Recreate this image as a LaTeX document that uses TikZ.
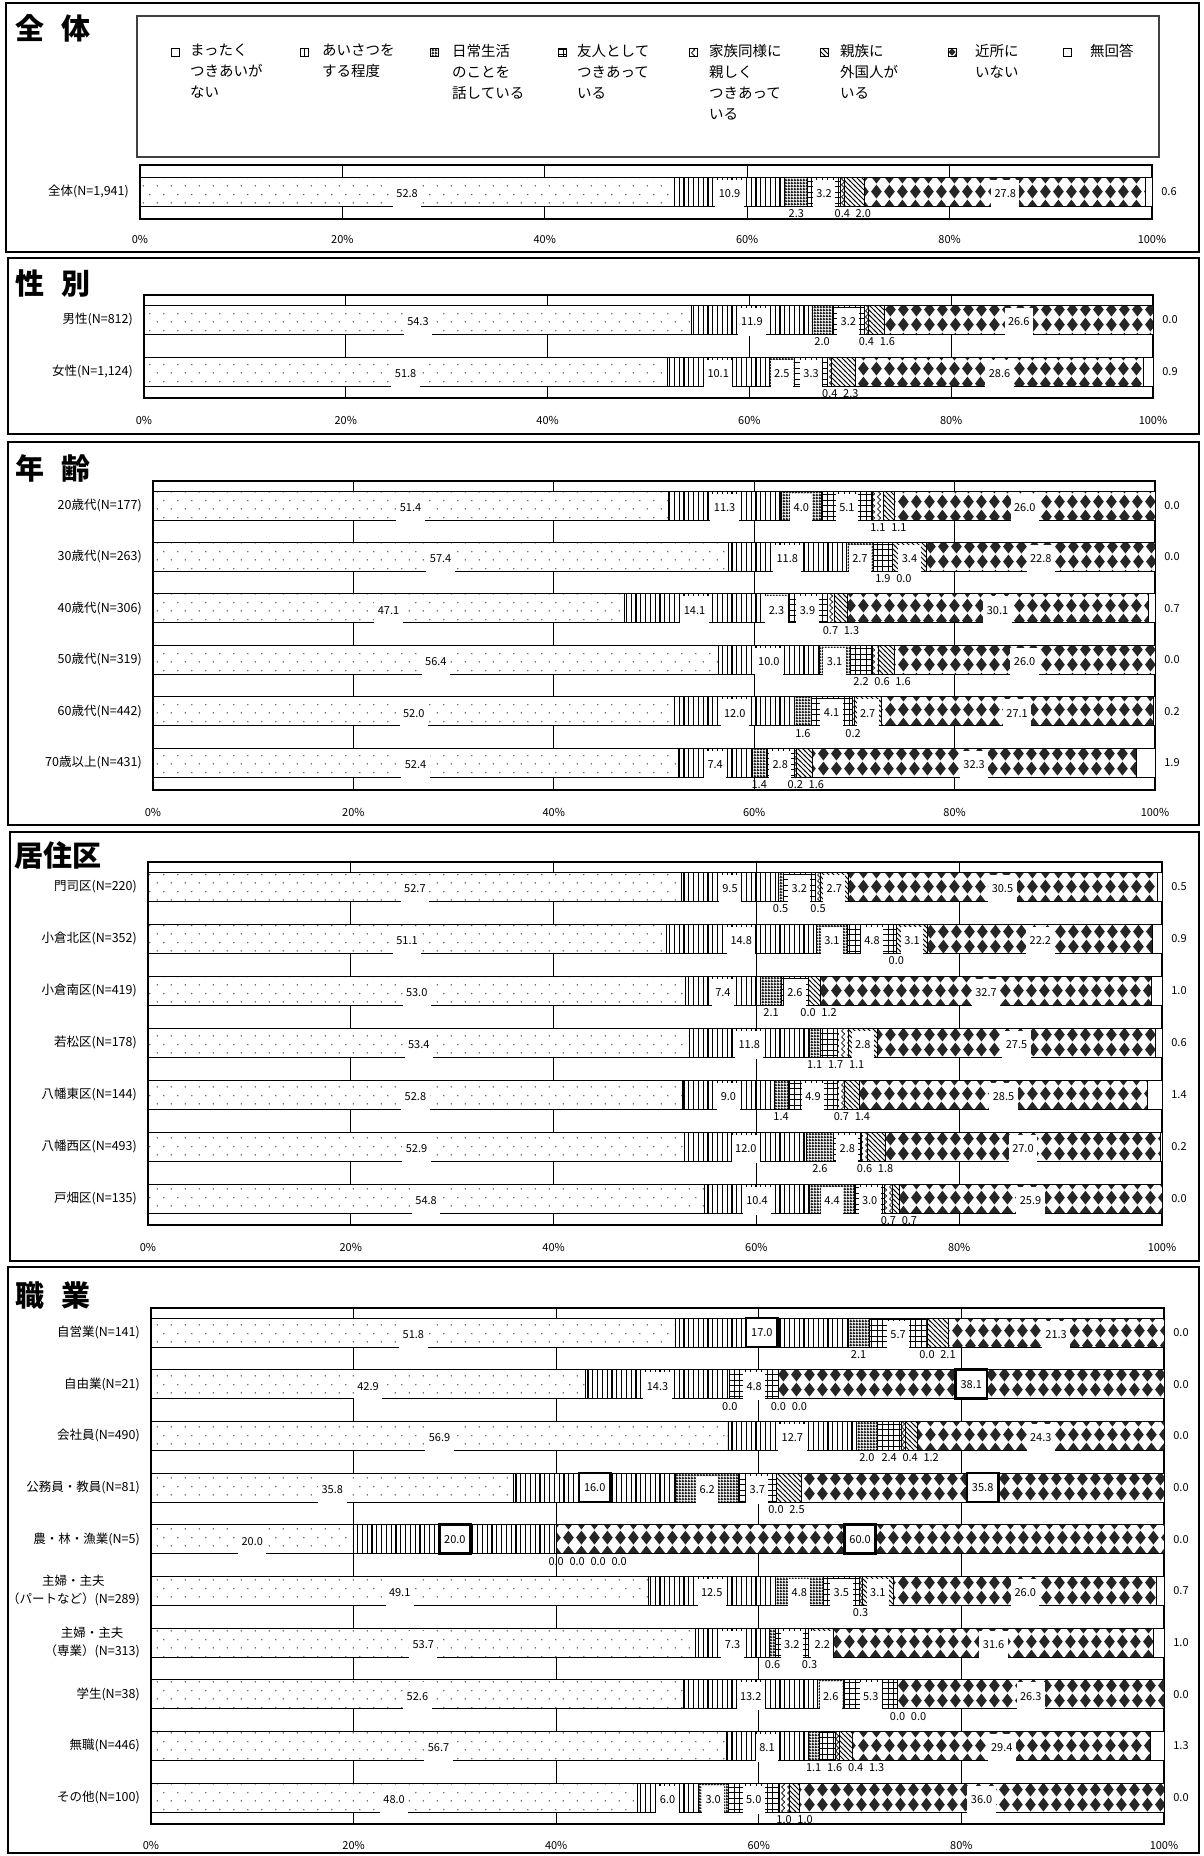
\documentclass[tikz,border=0pt]{standalone}
\usepackage{fontspec}
\setmainfont{Noto Sans CJK JP}
\usetikzlibrary{patterns}

\pgfdeclarepatternformonly{sparsedots}{\pgfqpoint{0pt}{0pt}}{\pgfqpoint{14pt}{17pt}}{\pgfqpoint{14pt}{17pt}}{%
  \pgfpathcircle{\pgfqpoint{3.5pt}{4.25pt}}{0.75pt}%
  \pgfpathcircle{\pgfqpoint{10.5pt}{12.75pt}}{0.75pt}%
  \pgfusepath{fill}}
\pgfdeclarepatternformonly{vlines}{\pgfqpoint{0pt}{-1pt}}{\pgfqpoint{4.8pt}{31pt}}{\pgfqpoint{4.8pt}{30pt}}{%
  \pgfsetlinewidth{1.1pt}%
  \pgfpathmoveto{\pgfqpoint{2.4pt}{-1pt}}\pgfpathlineto{\pgfqpoint{2.4pt}{31pt}}%
  \pgfusepath{stroke}}
\pgfdeclarepatternformonly{densedots}{\pgfqpoint{0pt}{0pt}}{\pgfqpoint{2.6pt}{2.6pt}}{\pgfqpoint{2.6pt}{2.6pt}}{%
  \pgfpathrectangle{\pgfqpoint{0pt}{0pt}}{\pgfqpoint{2.6pt}{1.5pt}}%
  \pgfpathrectangle{\pgfqpoint{0pt}{1.4pt}}{\pgfqpoint{1.5pt}{1.2pt}}%
  \pgfusepath{fill}}
\pgfdeclarepatternformonly{gridcells}{\pgfqpoint{-0.5pt}{-0.5pt}}{\pgfqpoint{6pt}{6pt}}{\pgfqpoint{5.5pt}{5.5pt}}{%
  \pgfsetlinewidth{0.9pt}%
  \pgfpathmoveto{\pgfqpoint{-0.5pt}{2.75pt}}\pgfpathlineto{\pgfqpoint{6pt}{2.75pt}}%
  \pgfpathmoveto{\pgfqpoint{2.75pt}{-0.5pt}}\pgfpathlineto{\pgfqpoint{2.75pt}{6pt}}%
  \pgfusepath{stroke}}
\pgfdeclarepatternformonly{zigzag}{\pgfqpoint{0pt}{-0.5pt}}{\pgfqpoint{6pt}{6.5pt}}{\pgfqpoint{6pt}{6pt}}{%
  \pgfsetlinewidth{0.7pt}%
  \pgfpathmoveto{\pgfqpoint{4.83pt}{-0.33pt}}\pgfpathlineto{\pgfqpoint{1.5pt}{3pt}}%
  \pgfpathlineto{\pgfqpoint{4.83pt}{6.33pt}}%
  \pgfusepath{stroke}}
\pgfdeclarepatternformonly{backlines}{\pgfqpoint{-1pt}{-1pt}}{\pgfqpoint{6pt}{6pt}}{\pgfqpoint{5pt}{5pt}}{%
  \pgfsetlinewidth{0.8pt}%
  \pgfpathmoveto{\pgfqpoint{-1pt}{6pt}}\pgfpathlineto{\pgfqpoint{6pt}{-1pt}}%
  \pgfusepath{stroke}}
\pgfdeclarepatternformonly{diamonds}{\pgfqpoint{0pt}{0pt}}{\pgfqpoint{13.4pt}{14.8pt}}{\pgfqpoint{13.4pt}{14.8pt}}{%
  \pgfpathmoveto{\pgfqpoint{6.7pt}{0.5pt}}\pgfpathlineto{\pgfqpoint{12.3pt}{7.4pt}}%
  \pgfpathlineto{\pgfqpoint{6.7pt}{14.3pt}}\pgfpathlineto{\pgfqpoint{1.1pt}{7.4pt}}%
  \pgfpathclose\pgfusepath{fill}}

\tikzset{
  segbox/.style={draw=black, line width=0.9pt, preaction={fill=white}},
  seg1/.style={segbox, pattern=sparsedots, pattern color=black!75},
  seg2/.style={segbox, pattern=vlines},
  seg3/.style={segbox, pattern=densedots, pattern color=black!85},
  seg4/.style={segbox, pattern=gridcells},
  seg5/.style={segbox, pattern=zigzag},
  seg6/.style={segbox, pattern=backlines},
  seg7/.style={segbox, pattern=diamonds, pattern color=black!85},
  seg8/.style={draw=black, line width=0.9pt, fill=white},
  numtext/.style={font=\fontsize{11}{11}\selectfont},
  inlabel/.style={numtext, fill=white, inner xsep=3.5pt, inner ysep=0pt, minimum height=28pt},
  boldlabel/.style={numtext, fill=white, draw=black, line width=2.6pt, inner xsep=5pt, minimum height=29pt},
  lowlabel/.style={numtext, inner sep=1pt},
  rowlabel/.style={font=\fontsize{12.5}{18}\selectfont, anchor=east, align=center, inner sep=0pt},
  sectitle/.style={font=\fontsize{29}{29}\selectfont\bfseries, anchor=west, inner sep=0pt},
  sectbox/.style={draw=black, line width=1.6pt},
  plotframe/.style={draw=black, line width=1.2pt},
  gridline/.style={draw=black, line width=0.7pt},
  legendbox/.style={draw=black!75, line width=1.2pt},
}

% frame, grid and percent line of one panel
\newcommand\plotaxes[4]{%
  \draw[plotframe] (\xa,#2) rectangle (\xa+\xw,#3);
  \foreach \g in {20,40,60,80}
    \draw[gridline] (\xa+\g/100*\xw,#2) -- (\xa+\g/100*\xw,#3);
  \foreach \g in {0,20,...,100}
    \node[numtext] (#1x\g) at (\xa+\g/100*\xw,#4) {\g\%};
}

% one stacked bar: name, top, label, value/place list, no answer
\newcommand\barrow[5]{%
  \gdef\tot{#5}%
  \foreach \val/\pos in {#4} {\pgfmathsetmacro\tmpsum{\tot+\val}\xdef\tot{\tmpsum}}%
  \gdef\cum{0}%
  \foreach \val/\pos [count=\idx] in {#4} {%
    \pgfmathsetmacro\xl{\xa+\cum/\tot*\xw}%
    \pgfmathsetmacro\tmpsum{\cum+\val}\xdef\cum{\tmpsum}%
    \pgfmathsetmacro\xr{\xa+\cum/\tot*\xw}%
    \draw[seg\idx] (\xl,#2) rectangle (\xr,#2+29);
  }%
  \pgfmathsetmacro\xl{\xa+\cum/\tot*\xw}%
  \draw[seg8] (\xl,#2) rectangle (\xa+\xw,#2+29);
  \gdef\cum{0}\gdef\lastlow{-100}%
  \foreach \val/\pos [count=\idx] in {#4} {%
    \pgfmathsetmacro\xc{\xa+(\cum+\val/2)/\tot*\xw}%
    \pgfmathsetmacro\tmpsum{\cum+\val}\xdef\cum{\tmpsum}%
    \if b\pos
      \pgfmathsetmacro\xc{max(\xc,\lastlow+21)}\xdef\lastlow{\xc}%
      \node[lowlabel] (#1v\idx) at (\xc,#2+36.5) {\val};
    \else\if k\pos
      \node[boldlabel] (#1v\idx) at (\xc,#2+14.5) {\val};
    \else
      \node[inlabel] (#1v\idx) at (\xc,#2+16.5) {\val};
    \fi\fi
  }%
  \node[numtext] (#1v8) at (\xa+\xw+17,#2+14.5) {#5};
  \node[rowlabel] (#1) at (\xa-11,#2+14.5) {#3};
}

\begin{document}
\begin{tikzpicture}[x=1pt,y=-1pt]
\useasboundingbox (0,0) rectangle (1203,1856);

% 全体
\begin{scope}
  \draw[sectbox] (6,3) rectangle (1199,252);
  \node[sectitle] (alltitle) at (15,28) {全\hspace{.6em}体};
  \draw[legendbox] (137,16) rectangle (1159,157);
  \begin{scope}[every node/.style={minimum size=8pt, inner sep=0pt, line width=0.7pt}]
    \node[seg1] (key1) at (175,52) {};
    \node[seg2] (key2) at (304,52) {};
    \node[seg3] (key3) at (434,52) {};
    \node[seg4] (key4) at (562,52) {};
    \node[seg5] (key5) at (693,52) {};
    \node[seg6] (key6) at (824,52) {};
    \node[seg7, path picture={\fill[black!85] (path picture bounding box.center)
      +(-3.6,0) -- +(0,-3.6) -- +(3.6,0) -- +(0,3.6) -- cycle;}] (key7) at (952,52) {};
    \node[seg8] (key8) at (1067,52) {};
  \end{scope}
  \begin{scope}[every node/.style={font=\fontsize{14.5}{21}\selectfont, align=left, anchor=north west, inner sep=0pt}]
    \node (text1) at (190,44) {まったく\\つきあいが\\ない};
    \node (text2) at (322,44) {あいさつを\\する程度};
    \node (text3) at (452,44) {日常生活\\のことを\\話している};
    \node (text4) at (577,44) {友人として\\つきあって\\いる};
    \node (text5) at (709,44) {家族同様に\\親しく\\つきあって\\いる};
    \node (text6) at (840,44) {親族に\\外国人が\\いる};
    \node (text7) at (975,44) {近所に\\いない};
    \node (text8) at (1090,44) {無回答};
  \end{scope}
  \def\xa{140}\def\xw{1012}
  \plotaxes{all}{165}{219}{239}
  \barrow{all}{177}{全体(N=1,941)}{52.8/i,10.9/i,2.3/b,3.2/i,0.4/b,2.0/b,27.8/i}{0.6}
\end{scope}

% 性別
\begin{scope}
  \draw[sectbox] (8,258) rectangle (1199,434);
  \node[sectitle] (sextitle) at (15,283) {性\hspace{.6em}別};
  \def\xa{144}\def\xw{1009}
  \plotaxes{sex}{295}{398}{420}
  \barrow{male}{305}{男性(N=812)}{54.3/i,11.9/i,2.0/b,3.2/i,0.4/b,1.6/b,26.6/i}{0.0}
  \barrow{female}{357}{女性(N=1,124)}{51.8/i,10.1/i,2.5/i,3.3/i,0.4/b,2.3/b,28.6/i}{0.9}
\end{scope}

% 年齢
\begin{scope}
  \draw[sectbox] (8,442) rectangle (1199,825);
  \node[sectitle] (agetitle) at (15,468) {年\hspace{.6em}齢};
  \def\xa{153}\def\xw{1002}
  \plotaxes{age}{481}{790}{812}
  \barrow{age20}{491}{20歳代(N=177)}{51.4/i,11.3/i,4.0/i,5.1/i,1.1/b,1.1/b,26.0/i}{0.0}
  \barrow{age30}{542.4}{30歳代(N=263)}{57.4/i,11.8/i,2.7/i,1.9/b,0.0/b,3.4/i,22.8/i}{0.0}
  \barrow{age40}{593.8}{40歳代(N=306)}{47.1/i,14.1/i,2.3/i,3.9/i,0.7/b,1.3/b,30.1/i}{0.7}
  \barrow{age50}{645.2}{50歳代(N=319)}{56.4/i,10.0/i,3.1/i,2.2/b,0.6/b,1.6/b,26.0/i}{0.0}
  \barrow{age60}{696.6}{60歳代(N=442)}{52.0/i,12.0/i,1.6/b,4.1/i,0.2/b,2.7/i,27.1/i}{0.2}
  \barrow{age70}{748}{70歳以上(N=431)}{52.4/i,7.4/i,1.4/b,2.8/i,0.2/b,1.6/b,32.3/i}{1.9}
\end{scope}

% 居住区
\begin{scope}
  \draw[sectbox] (10,832) rectangle (1199,1261);
  \node[sectitle] (wardtitle) at (14,855) {居住区};
  \def\xa{148}\def\xw{1014}
  \plotaxes{ward}{862}{1225}{1247}
  \barrow{moji}{872}{門司区(N=220)}{52.7/i,9.5/i,0.5/b,3.2/i,0.5/b,2.7/i,30.5/i}{0.5}
  \barrow{kokurakita}{924}{小倉北区(N=352)}{51.1/i,14.8/i,3.1/i,4.8/i,0.0/b,3.1/i,22.2/i}{0.9}
  \barrow{kokuraminami}{976}{小倉南区(N=419)}{53.0/i,7.4/i,2.1/b,2.6/i,0.0/b,1.2/b,32.7/i}{1.0}
  \barrow{wakamatsu}{1028}{若松区(N=178)}{53.4/i,11.8/i,1.1/b,1.7/b,1.1/b,2.8/i,27.5/i}{0.6}
  \barrow{yahatahigashi}{1080}{八幡東区(N=144)}{52.8/i,9.0/i,1.4/b,4.9/i,0.7/b,1.4/b,28.5/i}{1.4}
  \barrow{yahatanishi}{1132}{八幡西区(N=493)}{52.9/i,12.0/i,2.6/b,2.8/i,0.6/b,1.8/b,27.0/i}{0.2}
  \barrow{tobata}{1184}{戸畑区(N=135)}{54.8/i,10.4/i,4.4/i,3.0/i,0.7/b,0.7/b,25.9/i}{0.0}
\end{scope}

% 職業
\begin{scope}
  \draw[sectbox] (8,1267) rectangle (1199,1853);
  \node[sectitle] (jobtitle) at (15,1295) {職\hspace{.6em}業};
  \def\xa{151}\def\xw{1013}
  \plotaxes{job}{1308}{1824}{1845}
  \barrow{selfemp}{1318}{自営業(N=141)}{51.8/i,17.0/k,2.1/b,5.7/i,0.0/b,2.1/b,21.3/i}{0.0}
  \barrow{freelance}{1369.7}{自由業(N=21)}{42.9/i,14.3/i,0.0/b,4.8/i,0.0/b,0.0/b,38.1/k}{0.0}
  \barrow{company}{1421.3}{会社員(N=490)}{56.9/i,12.7/i,2.0/b,2.4/b,0.4/b,1.2/b,24.3/i}{0.0}
  \barrow{civil}{1473}{公務員・教員(N=81)}{35.8/i,16.0/k,6.2/i,3.7/i,0.0/b,2.5/b,35.8/k}{0.0}
  \barrow{farm}{1524.7}{農・林・漁業(N=5)}{20.0/i,20.0/k,0.0/b,0.0/b,0.0/b,0.0/b,60.0/k}{0.0}
  \barrow{parttime}{1576.3}{主婦・主夫\\（パートなど）(N=289)}{49.1/i,12.5/i,4.8/i,3.5/i,0.3/b,3.1/i,26.0/i}{0.7}
  \barrow{homemaker}{1628}{主婦・主夫\\（専業）(N=313)}{53.7/i,7.3/i,0.6/b,3.2/i,0.3/b,2.2/i,31.6/i}{1.0}
  \barrow{student}{1679.7}{学生(N=38)}{52.6/i,13.2/i,2.6/i,5.3/i,0.0/b,0.0/b,26.3/i}{0.0}
  \barrow{nojob}{1731.3}{無職(N=446)}{56.7/i,8.1/i,1.1/b,1.6/b,0.4/b,1.3/b,29.4/i}{1.3}
  \barrow{other}{1783}{その他(N=100)}{48.0/i,6.0/i,3.0/i,5.0/i,1.0/b,1.0/b,36.0/i}{0.0}
\end{scope}
\end{tikzpicture}
\end{document}
